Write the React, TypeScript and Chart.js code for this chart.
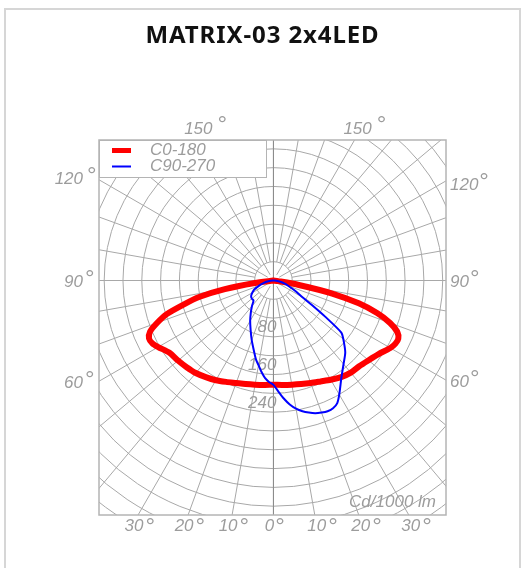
import React, { useEffect, useRef } from "react";
import { Chart, registerables } from "chart.js";

Chart.register(...registerables);

// ---------- data ----------
const TITLE = "MATRIX-03 2x4LED";
const UNIT_LABEL = "Cd/1000 lm";
const SERIES_LABELS = ["C0-180", "C90-270"];
const SERIES_COLORS = ["#ff0000", "#0000ff"];
const RING_STEP = 40;
const RING_LABELS = [80, 160, 240];
const SIDE_ANGLE_LABELS = [60, 90, 120];
const TOP_ANGLE_LABELS = [150];
const BOTTOM_ANGLE_LABELS = [30, 20, 10, 0];

// C0 (right half) and C180 (left half)
const GAMMA_C0 = [0, 5, 10, 15, 20, 25, 30, 35, 40, 45, 50, 55, 60, 62.5, 65, 67.5, 70, 72.5, 75, 77.5, 80, 82.5, 85, 90];
const I_C0 = [222, 223, 225, 228, 232, 237, 244, 251, 256, 258, 264, 273, 287, 292, 293, 285, 264, 232, 188, 128, 55, 10, 0, 0];
const GAMMA_C180 = [0, 5, 10, 15, 20, 25, 30, 35, 40, 45, 50, 55, 60, 62.5, 65, 67.5, 70, 72.5, 75, 77.5, 80, 82.5, 85, 90];
const I_C180 = [222, 223, 225, 228, 232, 238, 245, 251, 257, 261, 265, 269, 283, 290, 292, 284, 263, 238, 198, 162, 105, 40, 0, 0];

// C90 (right half) and C270 (left half)
const GAMMA_C90 = [0, 2.5, 5, 7.5, 10, 12.5, 15, 17.5, 20, 22.5, 25, 27.5, 30, 35, 40, 45, 50, 52.5, 55, 57.5, 60, 65, 70, 75, 80, 85, 90];
const I_C90 = [222, 236, 252, 266, 277, 285, 291, 296, 299, 301, 300, 294, 280, 252, 232, 216, 194, 182, 135, 97, 72, 50, 34, 24, 15, 6, 0];
const GAMMA_C270 = [0, 2.5, 5, 7.5, 10, 12.5, 15, 20, 25, 30, 35, 40, 45, 50, 55, 60, 65, 70, 75, 80, 85, 90];
const I_C270 = [222, 216, 208, 196, 183, 172, 158, 135, 115, 99, 84, 71, 60, 60, 58, 52, 45, 33, 22, 15, 6, 0];

// axis extent in cd/klm
const X_MIN = -371;
const X_MAX = 367;
const Y_MIN = -499;
const Y_MAX = 299;

// ---------- helpers ----------
const rad = (d: number) => (d * Math.PI) / 180;

function toXY(gammas: number[], values: number[], side: number) {
  return gammas.map((g, i) => ({
    x: side * values[i] * Math.sin(rad(g)),
    y: -values[i] * Math.cos(rad(g)),
  }));
}

function plane(gL: number[], vL: number[], gR: number[], vR: number[]) {
  const left = toXY(gL, vL, -1).reverse();
  const right = toXY(gR, vR, 1).slice(1);
  return [...left, ...right];
}

const GRID = "#a8a8a8";
const LABEL = "#9c9c9c";
const LABEL_FONT = 'italic 17px "Liberation Sans"';
const DEG_FONT = '24px "Liberation Sans"';

function drawDeg(ctx: CanvasRenderingContext2D, text: string, x: number, y: number, align: "left" | "right" | "center", gap: number, lift: number) {
  ctx.font = LABEL_FONT;
  const w = ctx.measureText(text).width;
  let left = x;
  if (align === "right") left = x - w;
  if (align === "center") left = x - w / 2;
  ctx.textAlign = "left";
  ctx.textBaseline = "middle";
  ctx.fillText(text, left, y);
  ctx.font = DEG_FONT;
  ctx.textBaseline = "alphabetic";
  ctx.fillText("°", left + w + gap, y + 13.8 - lift);
}

const polarPlugin = {
  id: "polarPlugin",
  beforeDatasetsDraw(chart: any) {
    const { ctx, chartArea: a } = chart;
    const xs = chart.scales.x;
    const ys = chart.scales.y;
    const cx = xs.getPixelForValue(0);
    const cy = ys.getPixelForValue(0);
    const ppu = (xs.getPixelForValue(RING_STEP) - cx) / RING_STEP;
    const maxR = Math.hypot(Math.max(cx - a.left, a.right - cx), Math.max(cy - a.top, a.bottom - cy));

    ctx.save();
    ctx.beginPath();
    ctx.rect(a.left, a.top, a.right - a.left, a.bottom - a.top);
    ctx.clip();
    ctx.strokeStyle = GRID;
    ctx.lineWidth = 1;
    for (let k = 1; k * RING_STEP * ppu < maxR; k++) {
      ctx.beginPath();
      ctx.arc(cx, cy, k * RING_STEP * ppu, 0, Math.PI * 2);
      ctx.stroke();
    }
    for (let d = 0; d < 360; d += 10) {
      const r0 = d % 90 === 0 ? 0 : RING_STEP * ppu * (d % 30 === 0 ? 0.35 : 1);
      ctx.beginPath();
      ctx.moveTo(cx + Math.sin(rad(d)) * r0, cy + Math.cos(rad(d)) * r0);
      ctx.lineTo(cx + Math.sin(rad(d)) * maxR, cy + Math.cos(rad(d)) * maxR);
      ctx.stroke();
    }
    ctx.strokeStyle = "#8c8c8c";
    ctx.beginPath();
    ctx.moveTo(cx, a.top);
    ctx.lineTo(cx, a.bottom);
    ctx.stroke();
    ctx.restore();

    // ring labels along 0°
    ctx.save();
    ctx.fillStyle = LABEL;
    ctx.font = LABEL_FONT;
    ctx.textAlign = "right";
    ctx.textBaseline = "top";
    RING_LABELS.forEach((v) => {
      ctx.fillText(String(v), cx + 3, ys.getPixelForValue(-v) + 1);
    });
    ctx.restore();

    // frame
    ctx.save();
    ctx.strokeStyle = "#b4b4b4";
    ctx.lineWidth = 1.5;
    ctx.strokeRect(a.left, a.top, a.right - a.left, a.bottom - a.top);
    ctx.restore();

    // legend
    ctx.save();
    const lw = 167;
    const lh = 37;
    ctx.fillStyle = "#ffffff";
    ctx.fillRect(a.left, a.top, lw, lh);
    ctx.strokeStyle = "#b4b4b4";
    ctx.lineWidth = 1;
    ctx.strokeRect(a.left + 0.5, a.top + 0.5, lw, lh);
    const ds = chart.data.datasets;
    SERIES_LABELS.forEach((lab, i) => {
      const yy = a.top + 10.5 + i * 16;
      ctx.strokeStyle = ds[i].borderColor;
      ctx.lineWidth = i === 0 ? 5 : 2;
      ctx.beginPath();
      ctx.moveTo(a.left + 13, yy);
      ctx.lineTo(a.left + 32, yy);
      ctx.stroke();
      ctx.fillStyle = LABEL;
      ctx.font = LABEL_FONT;
      ctx.textAlign = "left";
      ctx.textBaseline = "middle";
      ctx.fillText(lab, a.left + 51, yy);
    });
    ctx.restore();
  },
  afterDraw(chart: any) {
    const { ctx, chartArea: a } = chart;
    const xs = chart.scales.x;
    const ys = chart.scales.y;
    const cx = xs.getPixelForValue(0);
    const cy = ys.getPixelForValue(0);
    ctx.save();
    ctx.fillStyle = LABEL;

    // side labels
    SIDE_ANGLE_LABELS.forEach((g) => {
      const s = Math.sin(rad(g));
      const c = Math.cos(rad(g));
      const yl = cy + c * ((cx - a.left) / s);
      const yr = cy + c * ((a.right - cx) / s);
      drawDeg(ctx, String(g), a.left - 16, yl + 2 - (g > 90 ? 3 : 0), "right", g > 90 ? 4 : 2, 10);
      drawDeg(ctx, String(g), a.right + 4, yr + 2 + (g > 90 ? 2 : 0), "left", 1, 10);
    });

    // top labels
    TOP_ANGLE_LABELS.forEach((g) => {
      const t = (cy - a.top) / -Math.cos(rad(g));
      const dx = Math.sin(rad(g)) * t;
      drawDeg(ctx, String(g), cx - dx + 6, a.top - 11, "center", 5, 11);
      drawDeg(ctx, String(g), cx + dx + 3, a.top - 11, "center", 5, 11);
    });

    // bottom labels
    BOTTOM_ANGLE_LABELS.forEach((g) => {
      const dx = Math.tan(rad(g)) * (a.bottom - cy);
      if (g === 0) {
        drawDeg(ctx, "0", cx - 4, a.bottom + 11, "center", 1, 6);
      } else {
        drawDeg(ctx, String(g), cx - dx - 4, a.bottom + 11, "center", 2, 6);
        drawDeg(ctx, String(g), cx + dx + 2, a.bottom + 11, "center", 2, 6);
      }
    });

    // unit label
    ctx.font = LABEL_FONT;
    ctx.textAlign = "right";
    ctx.textBaseline = "middle";
    ctx.fillText(UNIT_LABEL, a.right - 10, a.bottom - 13);

    // title
    ctx.fillStyle = "#111111";
    ctx.font = 'bold 24px "Noto Sans"';
    (ctx as any).letterSpacing = "0.9px";
    ctx.textAlign = "center";
    ctx.textBaseline = "alphabetic";
    ctx.fillText(TITLE, chart.width / 2, 43);
    ctx.restore();
  },
};

export default function App() {
  const ref = useRef<HTMLCanvasElement>(null);
  useEffect(() => {
    const chart = new Chart(ref.current as HTMLCanvasElement, {
      type: "scatter",
      data: {
        datasets: [
          {
            label: SERIES_LABELS[0],
            data: plane(GAMMA_C180, I_C180, GAMMA_C0, I_C0),
            borderColor: SERIES_COLORS[0],
            backgroundColor: SERIES_COLORS[0],
            borderWidth: 6,
            showLine: true,
            pointRadius: 0,
            tension: 0.25,
            borderJoinStyle: "round",
            borderCapStyle: "round",
            order: 2,
          },
          {
            label: SERIES_LABELS[1],
            data: plane(GAMMA_C270, I_C270, GAMMA_C90, I_C90),
            borderColor: SERIES_COLORS[1],
            backgroundColor: SERIES_COLORS[1],
            borderWidth: 2,
            showLine: true,
            pointRadius: 0,
            tension: 0.25,
            borderJoinStyle: "round",
            order: 1,
          },
        ],
      },
      options: {
        responsive: false,
        animation: false,
        devicePixelRatio: 1,
        layout: { padding: { left: 99, top: 140, right: 79, bottom: 53 } },
        plugins: { legend: { display: false }, tooltip: { enabled: false } },
        scales: {
          x: { type: "linear", min: X_MIN, max: X_MAX, display: false },
          y: { type: "linear", min: Y_MIN, max: Y_MAX, display: false },
        },
      },
      plugins: [polarPlugin],
    } as any);
    return () => chart.destroy();
  }, []);

  return (
    <div style={{ position: "absolute", left: 0, top: 0, width: 525, height: 568, overflow: "hidden", background: "#ffffff" }}>
      <div
        style={{
          position: "absolute",
          left: 4,
          top: 8,
          width: 517,
          height: 620,
          border: "2px solid #d6d6d6",
          boxSizing: "border-box",
        }}
      />
      <canvas ref={ref} width={525} height={568} style={{ position: "absolute", left: 0, top: 0, width: 525, height: 568 }} />
    </div>
  );
}
